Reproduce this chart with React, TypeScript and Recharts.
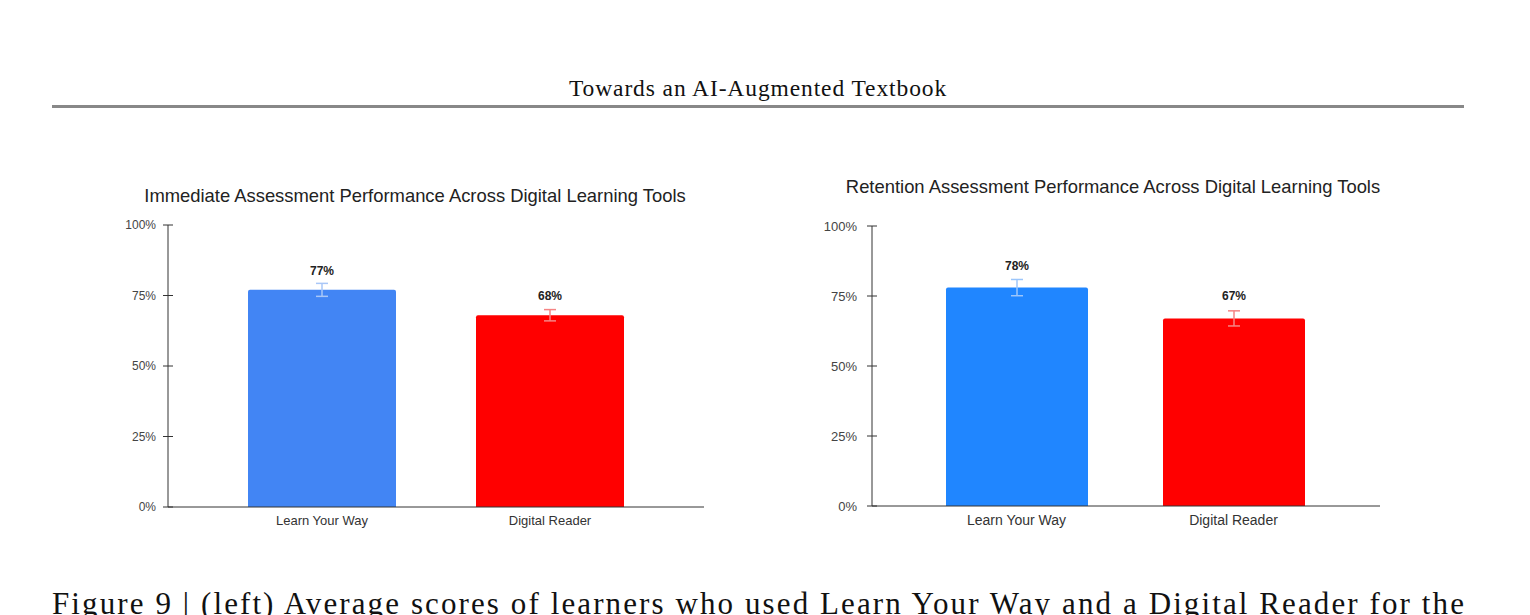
import React from "react"
import { BarChart, Bar, XAxis, YAxis, ErrorBar, LabelList } from "recharts"

const categories = ["Learn Your Way", "Digital Reader"]
const immediateScores = [77, 68]
const immediateErrors = [2.3, 2.0]
const retentionScores = [78, 67]
const retentionErrors = [2.9, 2.7]
const yTicks = [0, 25, 50, 75, 100]

const headerText = "Towards an AI-Augmented Textbook"
const captionText =
    "Figure 9 | (left) Average scores of learners who used Learn Your Way and a Digital Reader for the"

const SANS = "'Liberation Sans', Arial, sans-serif"
const SERIF = "'Liberation Serif', 'Times New Roman', serif"

// one row per category, the value sits in that category's own series so each bar gets its own error bar colour
function buildRows(scores: number[], errors: number[]) {
    return categories.map((name, i) => ({
        name,
        lyw: i === 0 ? scores[i] : undefined,
        lywErr: i === 0 ? errors[i] : undefined,
        dr: i === 1 ? scores[i] : undefined,
        drErr: i === 1 ? errors[i] : undefined,
    }))
}

interface PanelProps {
    title: string
    scores: number[]
    errors: number[]
    left: number
    top: number
    width: number
    height: number
    margin: { top: number; right: number; bottom: number; left: number }
    padding: { left: number; right: number }
    barSize: number
    blue: string
    blueErr: string
    titleTop: number
    titleCenter: number
    fontSize: number
    tickFont: number
    tickGap: number
    labelOffset: number
}

function YTick(props: any) {
    const { x, y, payload, fontSize, gap } = props
    return (
        <g>
            <line x1={x - 5} x2={x + 5} y1={y} y2={y} stroke="#333" strokeWidth={1} />
            <text x={x - gap} y={y} dy="0.35em" textAnchor="end" fontSize={fontSize} fill="#444" fontFamily={SANS}>
                {payload.value}%
            </text>
        </g>
    )
}

function Panel(p: PanelProps) {
    const data = buildRows(p.scores, p.errors)
    const fmt = (v: any) => (v == null ? "" : `${v}%`)
    const labelStyle = { fontSize: 12, fontWeight: 700, fill: "#222", fontFamily: SANS }
    return (
        <>
            <div
                style={{
                    position: "absolute",
                    top: p.titleTop,
                    left: p.titleCenter - 400,
                    width: 800,
                    textAlign: "center",
                    fontFamily: SANS,
                    fontSize: 18.4,
                    color: "#222",
                    whiteSpace: "nowrap",
                }}
            >
                {p.title}
            </div>
            <div style={{ position: "absolute", left: p.left, top: p.top }}>
                <BarChart width={p.width} height={p.height} data={data} margin={p.margin}>
                    <XAxis
                        dataKey="name"
                        padding={p.padding}
                        tickLine={false}
                        tickSize={0}
                        tickMargin={9}
                        height={20}
                        axisLine={{ stroke: "#333" }}
                        tick={{ fontSize: p.fontSize, fill: "#333", fontFamily: SANS }}
                    />
                    <YAxis
                        domain={[0, 100]}
                        ticks={yTicks}
                        width={40}
                        tickLine={false}
                        tickSize={0}
                        tickMargin={0}
                        axisLine={{ stroke: "#333" }}
                        tick={<YTick fontSize={p.tickFont} gap={p.tickGap} />}
                    />
                    <Bar dataKey="lyw" stackId="s" fill={p.blue} barSize={p.barSize} radius={[2, 2, 0, 0]} isAnimationActive={false}>
                        <ErrorBar dataKey="lywErr" width={6} stroke={p.blueErr} strokeWidth={1.5} />
                        <LabelList dataKey="lyw" position="top" offset={p.labelOffset} formatter={fmt} style={labelStyle} />
                    </Bar>
                    <Bar dataKey="dr" stackId="s" fill="#ff0000" barSize={p.barSize} radius={[2, 2, 0, 0]} isAnimationActive={false}>
                        <ErrorBar dataKey="drErr" width={6} stroke="#f58585" strokeWidth={1.5} />
                        <LabelList dataKey="dr" position="top" offset={p.labelOffset} formatter={fmt} style={labelStyle} />
                    </Bar>
                </BarChart>
            </div>
        </>
    )
}

export default function App() {
    return (
        <div style={{ position: "absolute", left: 0, top: 0, width: 1530, height: 615, background: "#fff", overflow: "hidden" }}>
            <div
                style={{
                    position: "absolute",
                    top: 75,
                    left: 0,
                    width: 1516,
                    textAlign: "center",
                    fontFamily: SERIF,
                    fontSize: 23.5,
                    letterSpacing: 0.9,
                    color: "#111",
                }}
            >
                {headerText}
            </div>
            <div style={{ position: "absolute", top: 105, left: 52, width: 1412, height: 3, background: "#888" }} />

            <Panel
                title="Immediate Assessment Performance Across Digital Learning Tools"
                scores={immediateScores}
                errors={immediateErrors}
                left={60}
                top={200}
                width={660}
                height={330}
                margin={{ top: 25, right: 16, bottom: 3, left: 68 }}
                padding={{ left: 40, right: 40 }}
                barSize={148}
                blue="#4285f4"
                blueErr="#a9c7f7"
                titleTop={185}
                titleCenter={415}
                fontSize={13}
                tickFont={12}
                tickGap={12}
                labelOffset={15}
            />
            <Panel
                title="Retention Assessment Performance Across Digital Learning Tools"
                scores={retentionScores}
                errors={retentionErrors}
                left={770}
                top={200}
                width={630}
                height={330}
                margin={{ top: 26, right: 20, bottom: 4, left: 62 }}
                padding={{ left: 36, right: 38 }}
                barSize={142}
                blue="#2086ff"
                blueErr="#9cc6fb"
                titleTop={176}
                titleCenter={1113}
                fontSize={14}
                tickFont={13}
                tickGap={15}
                labelOffset={18}
            />

            <div
                style={{
                    position: "absolute",
                    top: 589,
                    left: 52,
                    fontFamily: SERIF,
                    fontSize: 31,
                    letterSpacing: 2.1,
                    lineHeight: "30px",
                    color: "#111",
                    whiteSpace: "nowrap",
                }}
            >
                {captionText}
            </div>
        </div>
    )
}
